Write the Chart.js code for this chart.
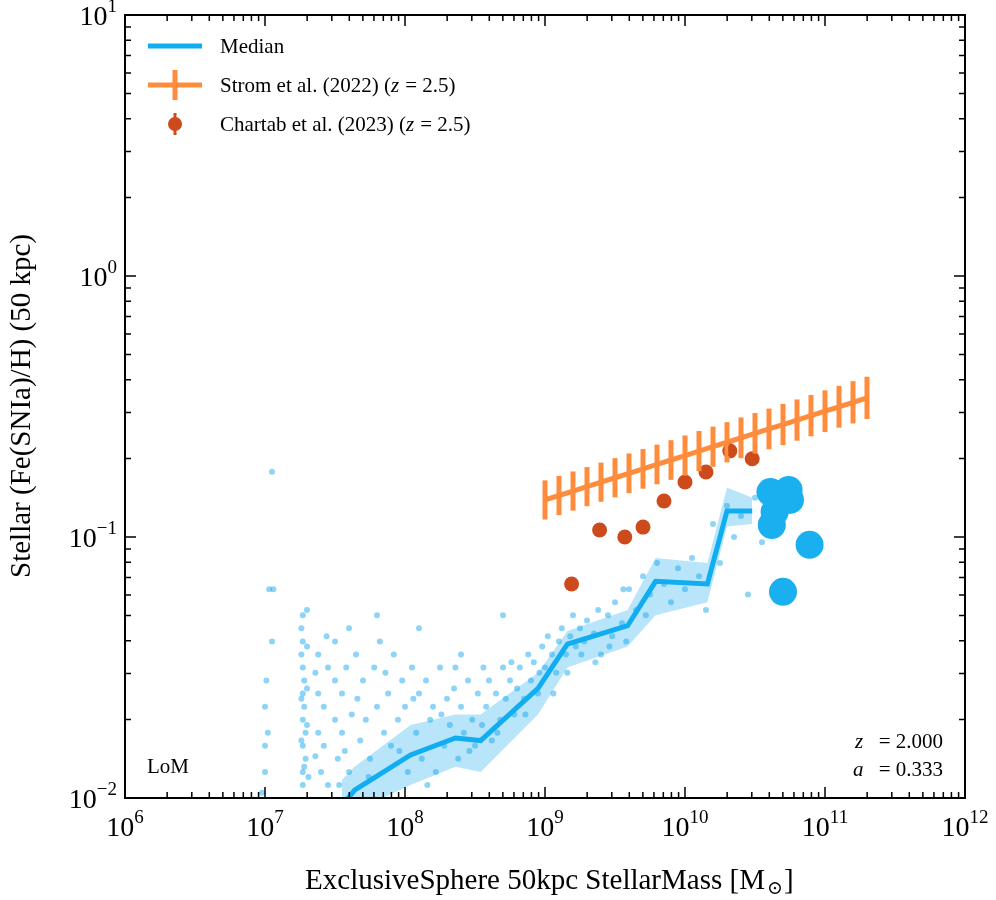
<!DOCTYPE html>
<html><head><meta charset="utf-8">
<script src="https://cdn.jsdelivr.net/npm/chart.js@4"></script>
<style>body{margin:0;background:#fff}#w{width:996px;height:900px}</style>
</head><body><div id="w"><canvas id="c"></canvas></div>
<script>
// all values in log10
const medX = [7.55, 7.64, 8.04, 8.36, 8.54, 8.95, 9.16, 9.59, 9.79, 10.16, 10.30, 10.48];
const medY = [-2.03, -1.97, -1.835, -1.77, -1.78, -1.58, -1.41, -1.34, -1.17, -1.18, -0.90, -0.90];
const bandHi = [-1.93, -1.88, -1.72, -1.68, -1.68, -1.52, -1.36, -1.28, -1.08, -1.10, -0.81, -0.85];
const bandLo = [-2.10, -2.05, -1.95, -1.88, -1.90, -1.68, -1.50, -1.42, -1.30, -1.25, -0.96, -0.95];
const stromX = [9.0,9.1,9.2,9.3,9.4,9.5,9.6,9.7,9.8,9.9,10.0,10.1,10.2,10.3,10.4,10.5,10.6,10.7,10.8,10.9,11.0,11.1,11.2,11.3];
const stromY = [-0.858,-0.841,-0.824,-0.807,-0.790,-0.773,-0.756,-0.739,-0.722,-0.705,-0.688,-0.671,-0.654,-0.637,-0.620,-0.603,-0.586,-0.569,-0.552,-0.535,-0.518,-0.501,-0.484,-0.467];
const stromErr = [0.075,0.075,0.075,0.075,0.075,0.075,0.076,0.076,0.076,0.076,0.077,0.077,0.077,0.077,0.078,0.078,0.078,0.079,0.079,0.079,0.080,0.080,0.081,0.081];
const chartabX = [9.19, 9.39, 9.57, 9.70, 9.85, 10.0, 10.15, 10.32, 10.48];
const chartabY = [-1.18, -0.973, -1.0, -0.962, -0.862, -0.789, -0.751, -0.67, -0.70];
const bigX = [10.61, 10.74, 10.75, 10.62, 10.64, 10.89, 10.70];
const bigY = [-0.828, -0.82, -0.858, -0.954, -0.904, -1.03, -1.21];
const cloud = [
 [7.0,-1.65],[7.0,-1.8],[7.0,-1.9],[7.02,-1.75],[7.05,-0.75],[7.05,-1.4],[7.06,-1.2],[6.98,-1.98],[7.01,-1.55],[7.03,-1.2],
 [7.27,-1.3],[7.27,-1.4],[7.27,-1.5],[7.27,-1.6],[7.27,-1.7],[7.27,-1.8],[7.27,-1.9],[7.27,-1.95],[7.28,-1.55],[7.28,-1.65],[7.29,-1.75],[7.29,-1.85],[7.26,-1.35],[7.3,-1.28],
 [7.26,-1.45],[7.26,-1.62],[7.26,-1.78],[7.28,-1.88],[7.3,-1.42],[7.3,-1.58],[7.3,-1.72],[7.31,-1.92],
 [7.38,-1.45],[7.38,-1.6],[7.38,-1.75],[7.4,-1.9],[7.42,-1.65],[7.42,-1.8],[7.45,-1.5],[7.45,-1.95],[7.36,-1.52],[7.36,-1.84],[7.44,-1.38],
 [7.5,-1.4],[7.5,-1.55],[7.5,-1.7],[7.52,-1.85],[7.55,-1.6],[7.55,-1.75],[7.58,-1.5],[7.6,-1.9],[7.6,-1.35],[7.53,-1.95],[7.57,-1.82],
 [7.65,-1.45],[7.66,-1.62],[7.68,-1.78],[7.7,-1.55],[7.72,-1.7],[7.75,-1.85],[7.78,-1.5],[7.8,-1.65],[7.82,-1.4],[7.85,-1.75],[7.88,-1.6],
 [7.9,-1.8],[7.92,-1.45],[7.95,-1.7],[7.98,-1.55],[8.0,-1.65],[8.02,-1.9],[8.05,-1.5],[8.08,-1.75],[8.1,-1.6],[8.12,-1.85],
 [8.15,-1.55],[8.18,-1.7],[8.2,-1.65],[8.22,-1.9],[8.25,-1.5],[8.28,-1.8],[8.3,-1.62],[8.32,-1.72],[8.35,-1.58],[8.38,-1.85],
 [8.4,-1.65],[8.42,-1.75],[8.45,-1.55],[8.48,-1.7],[8.5,-1.8],[8.52,-1.6],[8.55,-1.72],[8.58,-1.65],[8.6,-1.55],[8.62,-1.78],
 [8.65,-1.6],[8.68,-1.7],[8.7,-1.5],[8.72,-1.62],[8.75,-1.55],[8.78,-1.68],[8.8,-1.58],[8.82,-1.5],[8.85,-1.62],[8.88,-1.45],
 [8.9,-1.55],[8.92,-1.48],[8.95,-1.6],[8.98,-1.42],[9.0,-1.5],[9.02,-1.38],[9.05,-1.45],[9.08,-1.52],[9.1,-1.4],[9.12,-1.35],
 [9.15,-1.45],[9.18,-1.38],[9.2,-1.3],[9.22,-1.42],[9.25,-1.35],[9.28,-1.4],[9.3,-1.32],[9.35,-1.37],[9.38,-1.28],[9.4,-1.45],
 [9.45,-1.3],[9.48,-1.38],[9.5,-1.25],[9.55,-1.33],[9.58,-1.4],[9.6,-1.2],[9.65,-1.28],[9.7,-1.15],[9.72,-1.3],[9.75,-1.22],
 [9.8,-1.1],[9.85,-1.18],[9.9,-1.25],[9.95,-1.12],[10.0,-1.2],[10.05,-1.08],[10.1,-1.15],[10.15,-1.28],[10.2,-0.95],[10.25,-1.1],
 [10.3,-0.88],[10.35,-1.0],[10.4,-0.92],[10.45,-1.22],[10.5,-0.85],[10.55,-1.02],[8.7,-1.3],[8.1,-1.35],[7.8,-1.3],[8.4,-1.45],
 [7.62,-1.68],[7.74,-1.92],[7.86,-1.52],[7.96,-1.82],[8.06,-1.62],[8.16,-1.95],[8.26,-1.68],[8.36,-1.5],[8.46,-1.82],[8.56,-1.5],
 [8.66,-1.75],[8.76,-1.48],[8.86,-1.68],[8.96,-1.52],[9.06,-1.6],[9.16,-1.52],[9.26,-1.45],[9.36,-1.48],[9.46,-1.42],[9.56,-1.2]
];

const pts = (xs, ys) => xs.map((x, i) => ({ x: Math.pow(10, x), y: Math.pow(10, ys[i]) }));

const blue = "#10aef0";
const orange = "#ff8c3c";
const red = "#cc4a1c";
const serif = "'Liberation Serif', 'DejaVu Serif', serif";

const decor = {
  id: "decor",
  afterDatasetsDraw(chart) {
    const { ctx, chartArea: a, scales: { x, y } } = chart;
    ctx.save();
    ctx.beginPath(); ctx.rect(a.left, a.top, a.right - a.left, a.bottom - a.top); ctx.clip();
    ctx.strokeStyle = orange; ctx.lineWidth = 5;
    stromX.forEach((lx, i) => {
      const px = x.getPixelForValue(Math.pow(10, lx));
      ctx.beginPath();
      ctx.moveTo(px, y.getPixelForValue(Math.pow(10, stromY[i] - stromErr[i])));
      ctx.lineTo(px, y.getPixelForValue(Math.pow(10, stromY[i] + stromErr[i])));
      ctx.stroke();
    });
    ctx.strokeStyle = red; ctx.lineWidth = 3;
    chartabX.forEach((lx, i) => {
      const px = x.getPixelForValue(Math.pow(10, lx));
      ctx.beginPath();
      ctx.moveTo(px, y.getPixelForValue(Math.pow(10, chartabY[i] - 0.02)));
      ctx.lineTo(px, y.getPixelForValue(Math.pow(10, chartabY[i] + 0.02)));
      ctx.stroke();
    });
    ctx.restore();
  },
  afterDraw(chart) {
    const { ctx, chartArea: a, scales: { x, y } } = chart;
    ctx.save();
    ctx.strokeStyle = "#000"; ctx.lineWidth = 2;
    ctx.strokeRect(a.left, a.top, a.right - a.left, a.bottom - a.top);
    ctx.lineWidth = 1.5;
    for (let d = 6; d <= 12; d++) {
      for (let m = 1; m <= 9; m++) {
        if (d === 12 && m > 1) break;
        const px = x.getPixelForValue(m * Math.pow(10, d));
        const L = m === 1 ? 11 : 6;
        ctx.beginPath();
        ctx.moveTo(px, a.bottom); ctx.lineTo(px, a.bottom - L);
        ctx.moveTo(px, a.top); ctx.lineTo(px, a.top + L);
        ctx.stroke();
      }
    }
    for (let d = -2; d <= 1; d++) {
      for (let m = 1; m <= 9; m++) {
        if (d === 1 && m > 1) break;
        const py = y.getPixelForValue(m * Math.pow(10, d));
        const L = m === 1 ? 11 : 6;
        ctx.beginPath();
        ctx.moveTo(a.left, py); ctx.lineTo(a.left + L, py);
        ctx.moveTo(a.right, py); ctx.lineTo(a.right - L, py);
        ctx.stroke();
      }
    }
    ctx.fillStyle = "#000";
    const pow = (e, px, py, align) => {
      ctx.font = "28px " + serif;
      const w1 = ctx.measureText("10").width;
      ctx.font = "19px " + serif;
      const w2 = ctx.measureText(e).width;
      const sx = align === "right" ? px - w1 - w2 : px - (w1 + w2) / 2;
      ctx.textAlign = "left"; ctx.textBaseline = "alphabetic";
      ctx.font = "28px " + serif; ctx.fillText("10", sx, py);
      ctx.font = "19px " + serif; ctx.fillText(e, sx + w1, py - 13);
    };
    for (let d = 6; d <= 12; d++) pow(String(d), x.getPixelForValue(Math.pow(10, d)), a.bottom + 38, "center");
    for (let d = -2; d <= 1; d++) {
      pow(d < 0 ? "\u2212" + (-d) : String(d), a.left - 8, y.getPixelForValue(Math.pow(10, d)) + 10, "right");
    }
    ctx.font = "29px " + serif; ctx.textAlign = "center";
    const t = "ExclusiveSphere 50kpc StellarMass [M";
    ctx.fillText(t, 535, 889);
    const tw = ctx.measureText(t).width;
    ctx.font = "19px " + serif; ctx.textAlign = "left";
    ctx.fillText("\u2299", 537 + tw / 2, 894);
    ctx.font = "29px " + serif; ctx.fillText("]", 537 + tw / 2 + 17, 889);
    ctx.save(); ctx.translate(30, 406); ctx.rotate(-Math.PI / 2);
    ctx.textAlign = "center"; ctx.font = "29px " + serif;
    ctx.fillText("Stellar (Fe(SNIa)/H) (50 kpc)", 0, 0); ctx.restore();
    // annotations
    ctx.font = "21px " + serif; ctx.textAlign = "left";
    ctx.fillText("LoM", 147, 773);
    ctx.font = "italic 21px " + serif; ctx.fillText("z", 855, 748); ctx.fillText("a", 853, 776);
    ctx.font = "21px " + serif; ctx.textAlign = "right";
    ctx.fillText("= 2.000", 943, 748); ctx.fillText("= 0.333", 943, 776);
    // legend
    ctx.textAlign = "left"; ctx.font = "21px " + serif;
    ctx.strokeStyle = blue; ctx.lineWidth = 5;
    ctx.beginPath(); ctx.moveTo(148, 46); ctx.lineTo(202, 46); ctx.stroke();
    ctx.fillText("Median", 220, 53);
    ctx.strokeStyle = orange;
    ctx.beginPath(); ctx.moveTo(148, 85); ctx.lineTo(202, 85); ctx.moveTo(175, 70); ctx.lineTo(175, 100); ctx.stroke();
    let s = "Strom et al. (2022) (";
    ctx.fillText(s, 220, 92);
    let w = ctx.measureText(s).width;
    ctx.font = "italic 21px " + serif; ctx.fillText("z", 220 + w, 92);
    ctx.font = "21px " + serif; ctx.fillText(" = 2.5)", 229 + w, 92);
    ctx.fillStyle = red; ctx.strokeStyle = red; ctx.lineWidth = 3;
    ctx.beginPath(); ctx.arc(175, 124, 7, 0, 2 * Math.PI); ctx.fill();
    ctx.beginPath(); ctx.moveTo(175, 113); ctx.lineTo(175, 135); ctx.stroke();
    ctx.fillStyle = "#000";
    s = "Chartab et al. (2023) (";
    ctx.fillText(s, 220, 131);
    w = ctx.measureText(s).width;
    ctx.font = "italic 21px " + serif; ctx.fillText("z", 220 + w, 131);
    ctx.font = "21px " + serif; ctx.fillText(" = 2.5)", 229 + w, 131);
    ctx.restore();
  }
};

new Chart(document.getElementById("c"), {
  type: "scatter",
  data: {
    datasets: [
      { data: cloud.map(p => ({ x: Math.pow(10, p[0]), y: Math.pow(10, p[1]) })), pointRadius: 3, pointBackgroundColor: "rgba(30,170,240,0.5)", pointBorderWidth: 0, order: 6 },
      { type: "line", data: pts(medX, bandHi), borderWidth: 0, pointRadius: 0, fill: false, order: 5 },
      { type: "line", data: pts(medX, bandLo), borderWidth: 0, pointRadius: 0, fill: "-1", backgroundColor: "rgba(20,170,240,0.3)", order: 5 },
      { type: "line", data: pts(medX, medY), borderColor: blue, borderWidth: 5, pointRadius: 0, order: 4 },
      { type: "line", data: pts(stromX, stromY), borderColor: orange, borderWidth: 5, pointRadius: 0, order: 3 },
      { data: pts(chartabX, chartabY), pointRadius: 7.5, pointBackgroundColor: red, pointBorderWidth: 0, order: 2 },
      { data: pts(bigX, bigY), pointRadius: 14, pointBackgroundColor: "#1ab0f0", pointBorderWidth: 0, order: 1 }
    ]
  },
  options: {
    responsive: true, maintainAspectRatio: false, animation: false,
    layout: { padding: { left: 125, right: 31, top: 15, bottom: 102 } },
    scales: {
      x: { type: "logarithmic", min: 1e6, max: 1e12, display: false },
      y: { type: "logarithmic", min: 1e-2, max: 10, display: false }
    },
    plugins: { legend: { display: false }, tooltip: { enabled: false } }
  },
  plugins: [decor]
});
</script></body></html>
